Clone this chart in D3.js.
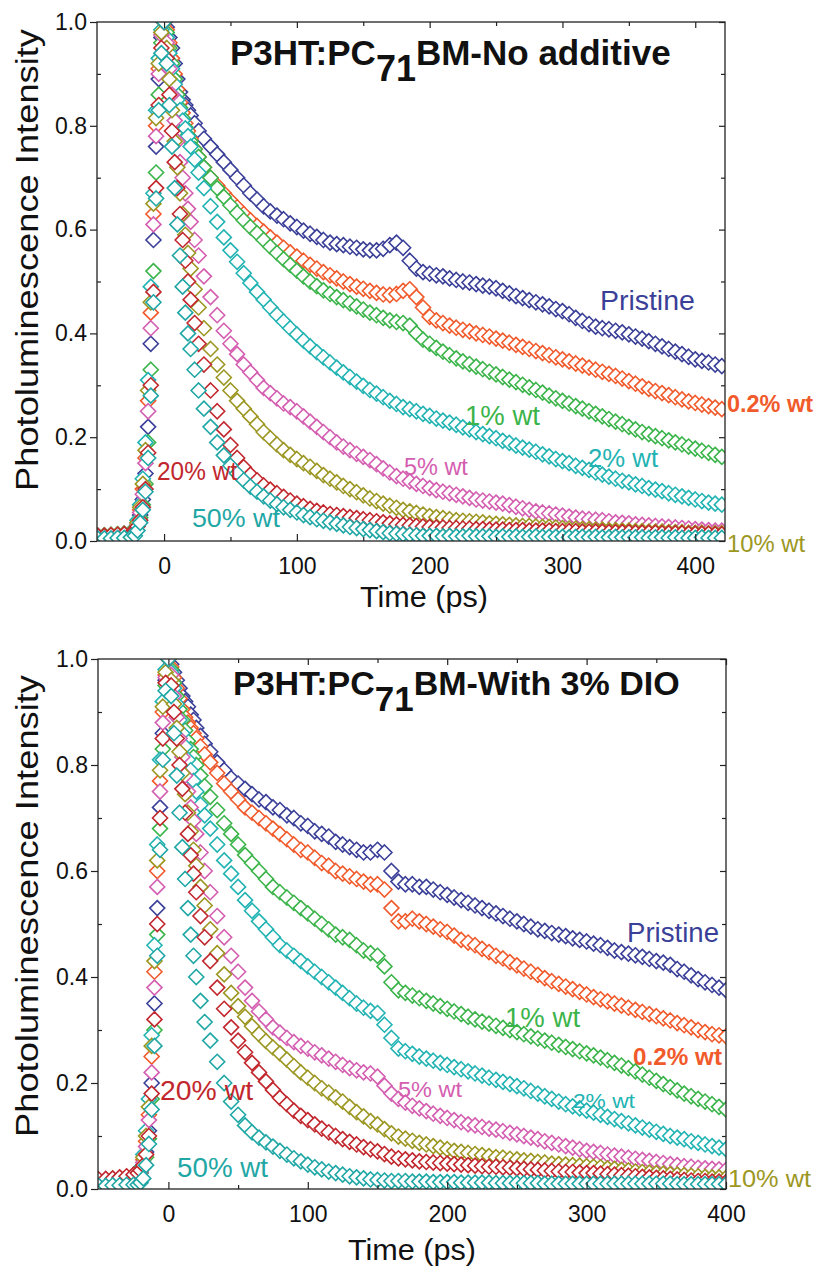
<!DOCTYPE html>
<html>
<head>
<meta charset="utf-8">
<script src="https://cdn.jsdelivr.net/npm/d3@7"></script>
<style>
  body { margin: 0; background: #fff; }
  svg { display: block; font-family: "Liberation Sans", Arial, sans-serif; }
</style>
</head>
<body>
<svg id="chart" width="816" height="1269"></svg>
<script>
'use strict';

// ---- data ----
const seriesNames = ['Pristine', '0.2% wt', '1% wt', '2% wt', '5% wt', '10% wt', '20% wt', '50% wt'];
const seriesColors = ['#3a3f98', '#f15a2b', '#3bb44a', '#22b3b3', '#d45eb0', '#9c9722', '#c1272d', '#1fa7a5'];

const xMajorTicks = [0, 100, 200, 300, 400];
const xMinorTicks = [50, 150, 250, 350];
const yMajorTicks = [0, 0.2, 0.4, 0.6, 0.8, 1.0];
const yMinorTicks = [0.1, 0.3, 0.5, 0.7, 0.9];

// time points (ps)
const riseTimes = [-50, -45, -40, -35, -30, -25, -22, -20, -18, -16, -14, -12, -10, -8, -6, -4, -2, 0];
const decayTimesTop = [2, 4, 6, 8, 10, 12, 14, 16, 18, 20, 23, 26, 30, 35, 40,
  45, 50, 55, 60, 65, 70, 75, 80, 85, 90, 95, 100, 105, 110, 115, 120, 125, 130, 135, 140,
  145, 150, 155, 160, 165, 170, 175, 180, 185, 190, 195, 200, 205, 210, 215, 220, 225, 230, 235, 240,
  245, 250, 255, 260, 265, 270, 275, 280, 285, 290, 295, 300, 305, 310, 315, 320, 325, 330, 335, 340,
  345, 350, 355, 360, 365, 370, 375, 380, 385, 390, 395, 400, 405, 410, 415, 420];
const decayTimesBottom = [2, 4, 6, 8, 10, 12, 14, 16, 18, 20, 23, 26, 30, 35, 40,
  45, 50, 55, 60, 65, 70, 75, 80, 85, 90, 95, 100, 105, 110, 115, 120, 125, 130, 135, 140,
  145, 150, 155, 160, 165, 170, 175, 180, 185, 190, 195, 200, 205, 210, 215, 220, 225, 230, 235, 240,
  245, 250, 255, 260, 265, 270, 275, 280, 285, 290, 295, 300, 305, 310, 315, 320, 325, 330, 335, 340,
  345, 350, 355, 360, 365, 370, 375, 380, 385, 390, 395, 400];

// top panel: no additive
const topRise = [
  [0.01, 0.01, 0.011, 0.012, 0.013, 0.015, 0.02, 0.03, 0.05, 0.08, 0.13, 0.22, 0.38, 0.58, 0.76, 0.89, 0.97, 1],
  [0.01, 0.011, 0.011, 0.012, 0.014, 0.016, 0.02, 0.035, 0.06, 0.1, 0.16, 0.27, 0.44, 0.63, 0.8, 0.91, 0.98, 1],
  [0.01, 0.01, 0.011, 0.012, 0.013, 0.015, 0.02, 0.03, 0.045, 0.07, 0.11, 0.19, 0.33, 0.52, 0.71, 0.86, 0.96, 1],
  [0.01, 0.011, 0.012, 0.013, 0.014, 0.017, 0.025, 0.04, 0.07, 0.12, 0.19, 0.31, 0.49, 0.67, 0.83, 0.93, 0.985, 1],
  [0.01, 0.01, 0.011, 0.012, 0.013, 0.015, 0.02, 0.03, 0.055, 0.09, 0.15, 0.25, 0.41, 0.61, 0.78, 0.9, 0.975, 1],
  [0.01, 0.011, 0.012, 0.013, 0.014, 0.016, 0.02, 0.035, 0.065, 0.11, 0.175, 0.29, 0.46, 0.65, 0.815, 0.92, 0.98, 1],
  [0.01, 0.01, 0.011, 0.012, 0.013, 0.014, 0.018, 0.028, 0.04, 0.065, 0.1, 0.17, 0.3, 0.48, 0.68, 0.84, 0.95, 1],
  [0.005, 0.005, 0.005, 0.006, 0.006, 0.007, 0.01, 0.02, 0.035, 0.06, 0.095, 0.16, 0.28, 0.46, 0.66, 0.83, 0.94, 1]
];
const topDecay = [
  [0.99, 0.97, 0.95, 0.92, 0.89, 0.865, 0.85, 0.84, 0.83, 0.82, 0.805, 0.79, 0.775, 0.76, 0.745,
   0.73, 0.715, 0.7, 0.685, 0.67, 0.658, 0.645, 0.635, 0.627, 0.62,
   0.612, 0.605, 0.598, 0.592, 0.586, 0.58, 0.575, 0.572, 0.57, 0.567,
   0.565, 0.562, 0.56, 0.56, 0.563, 0.57, 0.575, 0.565, 0.54, 0.525,
   0.518, 0.515, 0.512, 0.51, 0.506, 0.503, 0.5, 0.498, 0.495, 0.492,
   0.49, 0.487, 0.482, 0.477, 0.472, 0.468, 0.464, 0.46, 0.456, 0.452,
   0.447, 0.443, 0.437, 0.43, 0.424, 0.418, 0.413, 0.41, 0.408, 0.405,
   0.402, 0.398, 0.394, 0.39, 0.385, 0.38, 0.375, 0.37, 0.365, 0.36,
   0.355, 0.35, 0.347, 0.344, 0.34, 0.337],
  [0.985, 0.96, 0.93, 0.9, 0.87, 0.845, 0.825, 0.805, 0.79, 0.775, 0.755, 0.74, 0.72, 0.7, 0.685,
   0.67, 0.656, 0.643, 0.63, 0.618, 0.607, 0.596, 0.585, 0.575, 0.565,
   0.556, 0.548, 0.54, 0.532, 0.525, 0.518, 0.512, 0.506, 0.5, 0.495,
   0.49, 0.486, 0.482, 0.478, 0.475, 0.474, 0.476, 0.482, 0.485, 0.47,
   0.45, 0.432, 0.425, 0.42, 0.415, 0.411, 0.407, 0.404, 0.4, 0.397,
   0.394, 0.39, 0.386, 0.382, 0.378, 0.374, 0.37, 0.366, 0.362, 0.358,
   0.354, 0.35, 0.346, 0.342, 0.338, 0.334, 0.33, 0.326, 0.322, 0.318,
   0.313, 0.308, 0.303, 0.298, 0.293, 0.289, 0.285, 0.281, 0.277, 0.273,
   0.269, 0.266, 0.263, 0.26, 0.257, 0.254],
  [0.98, 0.95, 0.92, 0.89, 0.86, 0.835, 0.815, 0.797, 0.782, 0.77, 0.755, 0.74, 0.72, 0.7, 0.68,
   0.663, 0.647, 0.632, 0.618, 0.605, 0.593, 0.58, 0.567, 0.555, 0.543,
   0.532, 0.521, 0.51, 0.5, 0.491, 0.483, 0.476, 0.47, 0.464, 0.458,
   0.452, 0.446, 0.44, 0.435, 0.43, 0.425, 0.422, 0.42, 0.415, 0.4,
   0.388, 0.38, 0.372, 0.365, 0.358, 0.352, 0.346, 0.341, 0.336, 0.331,
   0.326, 0.321, 0.316, 0.311, 0.306, 0.301, 0.296, 0.291, 0.286, 0.28,
   0.275, 0.27, 0.265, 0.26, 0.255, 0.25, 0.245, 0.24, 0.235, 0.23,
   0.225, 0.22, 0.215, 0.21, 0.206, 0.202, 0.198, 0.194, 0.19, 0.186,
   0.182, 0.178, 0.174, 0.17, 0.166, 0.162],
  [0.97, 0.94, 0.91, 0.88, 0.85, 0.83, 0.81, 0.795, 0.78, 0.76, 0.735, 0.71, 0.68, 0.645, 0.615,
   0.585, 0.56, 0.538, 0.516, 0.497, 0.48, 0.465, 0.45, 0.436, 0.423,
   0.41, 0.398, 0.386, 0.375, 0.364, 0.354, 0.344, 0.334, 0.325, 0.316,
   0.307, 0.299, 0.291, 0.284, 0.277, 0.27, 0.264, 0.258, 0.254, 0.25,
   0.245, 0.241, 0.236, 0.232, 0.228, 0.224, 0.219, 0.215, 0.21, 0.206,
   0.202, 0.198, 0.193, 0.189, 0.184, 0.18, 0.176, 0.172, 0.167, 0.163,
   0.158, 0.154, 0.15, 0.145, 0.141, 0.137, 0.132, 0.128, 0.124, 0.12,
   0.116, 0.113, 0.109, 0.106, 0.102, 0.099, 0.096, 0.092, 0.089, 0.086,
   0.083, 0.08, 0.077, 0.074, 0.072, 0.07],
  [0.96, 0.91, 0.86, 0.81, 0.77, 0.73, 0.7, 0.67, 0.64, 0.615, 0.58, 0.55, 0.51, 0.47, 0.435,
   0.405, 0.38, 0.36, 0.34, 0.325, 0.31, 0.295, 0.285, 0.275, 0.265,
   0.258, 0.25, 0.24, 0.23, 0.22, 0.21, 0.2, 0.19, 0.182, 0.175,
   0.168, 0.162, 0.156, 0.148, 0.14, 0.132, 0.125, 0.12, 0.115, 0.11,
   0.106, 0.102, 0.098, 0.095, 0.092, 0.089, 0.086, 0.083, 0.08, 0.078,
   0.076, 0.074, 0.072, 0.069, 0.066, 0.063, 0.06, 0.057, 0.055, 0.053,
   0.051, 0.049, 0.047, 0.045, 0.043, 0.042, 0.041, 0.04, 0.038, 0.036,
   0.035, 0.034, 0.032, 0.031, 0.03, 0.029, 0.028, 0.027, 0.026, 0.025,
   0.024, 0.023, 0.022, 0.021, 0.02, 0.02],
  [0.95, 0.89, 0.83, 0.77, 0.72, 0.67, 0.63, 0.59, 0.555, 0.525, 0.485, 0.45, 0.41, 0.37, 0.34,
   0.315, 0.29, 0.27, 0.255, 0.24, 0.225, 0.21, 0.198, 0.186, 0.175,
   0.166, 0.158, 0.15, 0.143, 0.135, 0.127, 0.12, 0.113, 0.106, 0.1,
   0.094, 0.088, 0.082, 0.077, 0.072, 0.068, 0.064, 0.06, 0.057, 0.054,
   0.051, 0.048, 0.046, 0.044, 0.042, 0.04, 0.039, 0.038, 0.037, 0.036,
   0.034, 0.033, 0.032, 0.031, 0.03, 0.029, 0.029, 0.028, 0.027, 0.027,
   0.026, 0.025, 0.024, 0.024, 0.023, 0.023, 0.022, 0.022, 0.021, 0.021,
   0.02, 0.02, 0.019, 0.019, 0.018, 0.018, 0.018, 0.017, 0.017, 0.017,
   0.016, 0.016, 0.016, 0.015, 0.015, 0.015],
  [0.93, 0.86, 0.79, 0.73, 0.68, 0.63, 0.58, 0.54, 0.5, 0.465, 0.42, 0.38, 0.34, 0.29, 0.25,
   0.215, 0.185, 0.16, 0.142, 0.128, 0.117, 0.107, 0.099, 0.092, 0.085,
   0.078, 0.072, 0.067, 0.062, 0.058, 0.055, 0.052, 0.05, 0.048, 0.046,
   0.044, 0.042, 0.04, 0.038, 0.036, 0.034, 0.032, 0.031, 0.03, 0.029,
   0.028, 0.027, 0.026, 0.026, 0.025, 0.025, 0.024, 0.024, 0.023, 0.023,
   0.022, 0.022, 0.022, 0.021, 0.021, 0.021, 0.02, 0.02, 0.02, 0.02,
   0.019, 0.019, 0.019, 0.019, 0.018, 0.018, 0.018, 0.018, 0.017, 0.017,
   0.017, 0.017, 0.016, 0.016, 0.016, 0.016, 0.015, 0.015, 0.015, 0.015,
   0.014, 0.014, 0.014, 0.014, 0.013, 0.013],
  [0.92, 0.84, 0.76, 0.68, 0.61, 0.55, 0.49, 0.44, 0.4, 0.37, 0.33, 0.29, 0.255, 0.22, 0.19,
   0.165, 0.145, 0.13, 0.117, 0.105, 0.095, 0.086, 0.078, 0.071, 0.065,
   0.06, 0.055, 0.05, 0.046, 0.042, 0.039, 0.036, 0.033, 0.03, 0.027,
   0.025, 0.023, 0.021, 0.019, 0.017, 0.015, 0.014, 0.013, 0.012, 0.011,
   0.01, 0.01, 0.01, 0.009, 0.01, 0.009, 0.009, 0.01, 0.009, 0.009,
   0.009, 0.008, 0.009, 0.008, 0.009, 0.008, 0.008, 0.009, 0.008, 0.008,
   0.008, 0.008, 0.007, 0.008, 0.008, 0.007, 0.008, 0.007, 0.007, 0.008,
   0.007, 0.007, 0.007, 0.007, 0.006, 0.007, 0.007, 0.006, 0.007, 0.006,
   0.006, 0.006, 0.007, 0.006, 0.006, 0.006]
];

// bottom panel: with 3% DIO
const bottomRise = [
  [0.015, 0.016, 0.017, 0.018, 0.02, 0.022, 0.025, 0.03, 0.045, 0.07, 0.11, 0.2, 0.35, 0.53, 0.72, 0.86, 0.96, 1],
  [0.015, 0.016, 0.017, 0.019, 0.021, 0.023, 0.025, 0.035, 0.055, 0.09, 0.14, 0.25, 0.41, 0.6, 0.77, 0.9, 0.97, 1],
  [0.014, 0.015, 0.016, 0.018, 0.02, 0.022, 0.024, 0.03, 0.04, 0.06, 0.095, 0.17, 0.3, 0.48, 0.68, 0.83, 0.95, 1],
  [0.015, 0.016, 0.018, 0.019, 0.021, 0.024, 0.027, 0.04, 0.065, 0.11, 0.17, 0.29, 0.46, 0.65, 0.81, 0.92, 0.98, 1],
  [0.015, 0.016, 0.017, 0.018, 0.02, 0.022, 0.025, 0.032, 0.05, 0.08, 0.13, 0.22, 0.38, 0.57, 0.75, 0.88, 0.965, 1],
  [0.016, 0.017, 0.018, 0.019, 0.021, 0.023, 0.026, 0.037, 0.06, 0.1, 0.155, 0.27, 0.43, 0.62, 0.79, 0.91, 0.975, 1],
  [0.018, 0.019, 0.02, 0.022, 0.024, 0.027, 0.03, 0.035, 0.045, 0.065, 0.1, 0.18, 0.32, 0.5, 0.7, 0.85, 0.955, 1],
  [0.006, 0.006, 0.007, 0.007, 0.008, 0.008, 0.008, 0.012, 0.02, 0.045, 0.085, 0.15, 0.27, 0.44, 0.64, 0.81, 0.94, 1]
];
const bottomDecay = [
  [0.99, 0.975, 0.96, 0.945, 0.93, 0.92, 0.91, 0.895, 0.885, 0.87, 0.855, 0.84, 0.825, 0.805, 0.79,
   0.775, 0.765, 0.755, 0.745, 0.735, 0.73, 0.72, 0.715, 0.705, 0.7,
   0.69, 0.685, 0.675, 0.67, 0.665, 0.655, 0.65, 0.645, 0.64, 0.635,
   0.635, 0.64, 0.635, 0.6, 0.58, 0.575, 0.575, 0.57, 0.57, 0.565,
   0.56, 0.555, 0.55, 0.545, 0.54, 0.535, 0.53, 0.525, 0.52, 0.515,
   0.51, 0.505, 0.5, 0.495, 0.49, 0.487, 0.483, 0.48, 0.477, 0.473,
   0.47, 0.467, 0.463, 0.46, 0.455, 0.45, 0.447, 0.444, 0.441, 0.438,
   0.434, 0.43, 0.427, 0.423, 0.415, 0.41, 0.403, 0.396, 0.39, 0.385,
   0.38, 0.375],
  [0.985, 0.965, 0.945, 0.925, 0.905, 0.89, 0.88, 0.87, 0.86, 0.85, 0.835, 0.82, 0.805, 0.785, 0.765,
   0.75, 0.735, 0.72, 0.71, 0.7, 0.69, 0.68, 0.67, 0.66, 0.65,
   0.64, 0.635, 0.625, 0.615, 0.61, 0.6, 0.595, 0.59, 0.585, 0.58,
   0.575, 0.575, 0.565, 0.53, 0.505, 0.505, 0.51, 0.505, 0.5, 0.495,
   0.49, 0.485, 0.478, 0.47, 0.465, 0.46, 0.453, 0.447, 0.44, 0.435,
   0.428, 0.422, 0.416, 0.41, 0.404, 0.398, 0.392, 0.387, 0.382, 0.377,
   0.372, 0.367, 0.362, 0.358, 0.354, 0.35, 0.346, 0.342, 0.338, 0.334,
   0.33, 0.326, 0.322, 0.318, 0.313, 0.309, 0.305, 0.3, 0.296, 0.292,
   0.29, 0.288],
  [0.98, 0.955, 0.93, 0.905, 0.885, 0.865, 0.845, 0.83, 0.815, 0.8, 0.78, 0.76, 0.74, 0.715, 0.69,
   0.67, 0.65, 0.63, 0.615, 0.6, 0.585, 0.57, 0.56, 0.55, 0.54,
   0.53, 0.52, 0.51, 0.5, 0.49, 0.48, 0.475, 0.47, 0.46, 0.45,
   0.445, 0.44, 0.42, 0.39, 0.375, 0.37, 0.365, 0.36, 0.355, 0.35,
   0.345, 0.34, 0.335, 0.33, 0.325, 0.32, 0.316, 0.312, 0.308, 0.304,
   0.3, 0.296, 0.292, 0.288, 0.284, 0.28, 0.276, 0.272, 0.268, 0.264,
   0.26, 0.256, 0.252, 0.248, 0.243, 0.238, 0.233, 0.228, 0.222, 0.216,
   0.21, 0.204, 0.198, 0.192, 0.186, 0.18, 0.175, 0.17, 0.165, 0.16,
   0.155, 0.15],
  [0.975, 0.945, 0.915, 0.885, 0.86, 0.835, 0.81, 0.79, 0.77, 0.75, 0.725, 0.705, 0.68, 0.65, 0.62,
   0.595, 0.57, 0.545, 0.525, 0.505, 0.49, 0.475, 0.46, 0.45, 0.44,
   0.43, 0.42, 0.41, 0.4, 0.39, 0.38, 0.37, 0.36, 0.35, 0.342,
   0.336, 0.332, 0.31, 0.285, 0.265, 0.26, 0.255, 0.25, 0.246, 0.242,
   0.238, 0.234, 0.23, 0.226, 0.222, 0.218, 0.214, 0.21, 0.206, 0.202,
   0.198, 0.194, 0.19, 0.185, 0.18, 0.175, 0.17, 0.165, 0.16, 0.156,
   0.152, 0.148, 0.144, 0.14, 0.136, 0.132, 0.128, 0.124, 0.12, 0.116,
   0.112, 0.108, 0.104, 0.1, 0.097, 0.094, 0.09, 0.087, 0.084, 0.081,
   0.078, 0.075],
  [0.97, 0.93, 0.89, 0.85, 0.815, 0.78, 0.75, 0.72, 0.695, 0.67, 0.635, 0.6, 0.56, 0.515, 0.475,
   0.44, 0.41, 0.38, 0.355, 0.335, 0.32, 0.305, 0.295, 0.285, 0.277,
   0.27, 0.265, 0.258, 0.252, 0.246, 0.24, 0.234, 0.228, 0.224, 0.22,
   0.218, 0.212, 0.195, 0.18, 0.17, 0.163, 0.157, 0.152, 0.147, 0.142,
   0.138, 0.134, 0.13, 0.126, 0.122, 0.12, 0.117, 0.114, 0.112, 0.109,
   0.106, 0.103, 0.1, 0.097, 0.094, 0.09, 0.087, 0.084, 0.081, 0.078,
   0.075, 0.072, 0.07, 0.068, 0.065, 0.063, 0.061, 0.059, 0.057, 0.055,
   0.053, 0.051, 0.049, 0.047, 0.045, 0.043, 0.042, 0.04, 0.039, 0.038,
   0.037, 0.036],
  [0.96, 0.915, 0.87, 0.825, 0.785, 0.745, 0.71, 0.675, 0.64, 0.61, 0.57, 0.535, 0.49, 0.445, 0.405,
   0.37, 0.345, 0.325, 0.307, 0.292, 0.279, 0.267, 0.256, 0.244, 0.232,
   0.22, 0.21, 0.2, 0.19, 0.182, 0.173, 0.165, 0.155, 0.145, 0.137,
   0.128, 0.122, 0.113, 0.105, 0.099, 0.095, 0.091, 0.087, 0.084, 0.081,
   0.078, 0.075, 0.072, 0.07, 0.068, 0.066, 0.064, 0.062, 0.06, 0.059,
   0.057, 0.056, 0.054, 0.053, 0.051, 0.05, 0.048, 0.047, 0.046, 0.045,
   0.044, 0.043, 0.042, 0.041, 0.039, 0.038, 0.036, 0.035, 0.033, 0.032,
   0.031, 0.03, 0.029, 0.028, 0.027, 0.026, 0.025, 0.024, 0.023, 0.022,
   0.022, 0.021],
  [0.95, 0.9, 0.85, 0.8, 0.755, 0.71, 0.67, 0.63, 0.595, 0.56, 0.515, 0.475, 0.43, 0.38, 0.34,
   0.305, 0.28, 0.258, 0.238, 0.22, 0.203, 0.187, 0.172, 0.16, 0.148,
   0.138, 0.13, 0.122, 0.114, 0.107, 0.1, 0.094, 0.089, 0.084, 0.079,
   0.075, 0.071, 0.066, 0.061, 0.058, 0.056, 0.054, 0.052, 0.051, 0.05,
   0.049, 0.048, 0.047, 0.046, 0.045, 0.044, 0.043, 0.042, 0.042, 0.041,
   0.04, 0.039, 0.038, 0.037, 0.036, 0.035, 0.034, 0.033, 0.032, 0.032,
   0.031, 0.03, 0.03, 0.029, 0.028, 0.027, 0.026, 0.025, 0.024, 0.023,
   0.022, 0.021, 0.02, 0.019, 0.018, 0.017, 0.016, 0.015, 0.015, 0.014,
   0.014, 0.013],
  [0.93, 0.86, 0.78, 0.71, 0.645, 0.585, 0.53, 0.48, 0.44, 0.4, 0.355, 0.315, 0.28, 0.24, 0.2,
   0.165, 0.14, 0.12, 0.107, 0.097, 0.088, 0.08, 0.072, 0.065, 0.058,
   0.052, 0.046, 0.041, 0.037, 0.033, 0.03, 0.027, 0.024, 0.022, 0.02,
   0.018, 0.017, 0.016, 0.015, 0.015, 0.015, 0.014, 0.014, 0.014, 0.013,
   0.013, 0.013, 0.013, 0.012, 0.012, 0.012, 0.012, 0.012, 0.011, 0.011,
   0.011, 0.011, 0.011, 0.011, 0.011, 0.01, 0.01, 0.01, 0.01, 0.01,
   0.01, 0.01, 0.01, 0.01, 0.01, 0.01, 0.01, 0.01, 0.01, 0.01,
   0.01, 0.01, 0.01, 0.01, 0.009, 0.009, 0.009, 0.009, 0.009, 0.009,
   0.009, 0.009]
];

// ---- layout ----
const panels = [
  {
    rise: topRise, decay: topDecay, decayTimes: decayTimesTop,
    xDomain: [-50.5, 422.4], xRange: [97, 725], yRange: [541, 22],
    title: ['P3HT:PC', '71', 'BM-No additive'], titleX: 230, titleY: 65, titleSize: 35,
    timeX: 424, timeY: 607, yTitleY: 260,
    // label anchor in data units [t, v], font size, text length
    labels: [[328.2, 0.445, 27, 95], [423.9, 0.249, 23, 86], [226.6, 0.2235, 27, 75], [319.3, 0.143, 25, 70],
             [180.6, 0.127, 23, 64], [423.9, -0.021, 24, 78], [-5.3, 0.1175, 25, 80], [21, 0.027, 26, 88]]
  },
  {
    rise: bottomRise, decay: bottomDecay, decayTimes: decayTimesBottom,
    xDomain: [-50.5, 400], xRange: [98, 726], yRange: [1189, 659],
    title: ['P3HT:PC', '71', 'BM-With 3% DIO'], titleX: 233, titleY: 695, titleSize: 34,
    timeX: 412, timeY: 1260, yTitleY: 906,
    labels: [[329, 0.466, 27, 92], [333.3, 0.234, 23, 89], [241.5, 0.3057, 27, 75], [290.2, 0.1528, 21, 62],
             [164.7, 0.1736, 22, 64], [401.4, 0.004, 24, 83], [-6, 0.168, 27, 93], [6.2, 0.0226, 27, 91]]
  }
];

const svg = d3.select('#chart');
const diamond = 'M0,-7.5L7.5,0L0,7.5L-7.5,0Z';
const axisColor = '#222';

panels.forEach((p, pi) => {
  const x = d3.scaleLinear().domain(p.xDomain).range(p.xRange);
  const y = d3.scaleLinear().domain([0, 1]).range(p.yRange);
  const [xl, xr] = p.xRange;
  const [yb, yt] = p.yRange;

  const g = svg.append('g');

  svg.append('clipPath').attr('id', 'clip' + pi)
    .append('rect')
    .attr('x', xl).attr('y', yt)
    .attr('width', xr - xl).attr('height', yb - yt);

  // markers, one series after another so the later ones sit on top
  const plot = g.append('g').attr('clip-path', `url(#clip${pi})`);
  const times = riseTimes.concat(p.decayTimes);
  seriesNames.forEach((name, i) => {
    const vals = p.rise[i].concat(p.decay[i]);
    const pts = times.map((t, k) => ({ t: t, v: vals[k] })).filter(d => d.v != null);
    plot.append('g')
      .selectAll('path')
      .data(pts)
      .join('path')
      .attr('d', diamond)
      .attr('transform', d => `translate(${x(d.t)},${y(d.v)})`)
      .attr('fill', '#fff')
      .attr('stroke', seriesColors[i])
      .attr('stroke-width', 1.6);
  });

  // axes
  const styleAxis = sel => {
    sel.select('.domain').remove();
    sel.selectAll('line').attr('stroke', axisColor).attr('stroke-width', 1.2);
    sel.selectAll('text')
      .attr('fill', '#111')
      .style('font-family', '"Liberation Sans", Arial, sans-serif')
      .style('font-size', '23px');
  };

  g.append('g').attr('transform', `translate(0,${yb})`)
    .call(d3.axisBottom(x).tickValues(xMajorTicks).tickSize(-7).tickPadding(17).tickFormat(d3.format('d')))
    .call(styleAxis);
  g.append('g').attr('transform', `translate(0,${yb})`)
    .call(d3.axisBottom(x).tickValues(xMinorTicks).tickSize(-4).tickFormat(''))
    .call(styleAxis);
  g.append('g').attr('transform', `translate(0,${yt})`)
    .call(d3.axisTop(x).tickValues(xMajorTicks).tickSize(-6).tickFormat(''))
    .call(styleAxis);
  g.append('g').attr('transform', `translate(0,${yt})`)
    .call(d3.axisTop(x).tickValues(xMinorTicks).tickSize(-4).tickFormat(''))
    .call(styleAxis);
  g.append('g').attr('transform', `translate(${xl},0)`)
    .call(d3.axisLeft(y).tickValues(yMajorTicks).tickSize(7).tickPadding(3).tickFormat(d3.format('.1f')))
    .call(styleAxis);
  g.append('g').attr('transform', `translate(${xl},0)`)
    .call(d3.axisLeft(y).tickValues(yMinorTicks).tickSize(-4).tickFormat(''))
    .call(styleAxis);
  g.append('g').attr('transform', `translate(${xr},0)`)
    .call(d3.axisRight(y).tickValues(yMajorTicks).tickSize(-6).tickFormat(''))
    .call(styleAxis);
  g.append('g').attr('transform', `translate(${xr},0)`)
    .call(d3.axisRight(y).tickValues(yMinorTicks).tickSize(-4).tickFormat(''))
    .call(styleAxis);

  g.append('rect')
    .attr('x', xl).attr('y', yt)
    .attr('width', xr - xl).attr('height', yb - yt)
    .attr('fill', 'none')
    .attr('stroke', axisColor)
    .attr('stroke-width', 1.3);

  // title with subscript
  const title = g.append('text')
    .attr('x', p.titleX).attr('y', p.titleY)
    .attr('font-size', p.titleSize)
    .attr('font-weight', 'bold')
    .attr('fill', '#111');
  title.append('tspan').text(p.title[0]);
  title.append('tspan').attr('dy', 16).attr('font-size', p.titleSize + 1).text(p.title[1]);
  title.append('tspan').attr('dy', -16).text(p.title[2]);

  // axis titles
  g.append('text')
    .attr('x', p.timeX).attr('y', p.timeY)
    .attr('text-anchor', 'middle')
    .attr('font-size', 29)
    .attr('fill', '#111')
    .attr('textLength', 128)
    .attr('lengthAdjust', 'spacingAndGlyphs')
    .text('Time (ps)');

  g.append('text')
    .attr('transform', `translate(38,${p.yTitleY}) rotate(-90)`)
    .attr('text-anchor', 'middle')
    .attr('font-size', 31)
    .attr('fill', '#111')
    .attr('textLength', 462)
    .attr('lengthAdjust', 'spacingAndGlyphs')
    .text('Photoluminescence Intensity');

  // series labels
  p.labels.forEach((l, i) => {
    g.append('text')
      .attr('x', x(l[0])).attr('y', y(l[1]))
      .attr('font-size', l[2])
      .attr('font-weight', i === 1 ? 'bold' : 'normal')
      .attr('fill', seriesColors[i])
      .attr('textLength', l[3])
      .attr('lengthAdjust', 'spacingAndGlyphs')
      .text(seriesNames[i]);
  });
});
</script>
</body>
</html>
